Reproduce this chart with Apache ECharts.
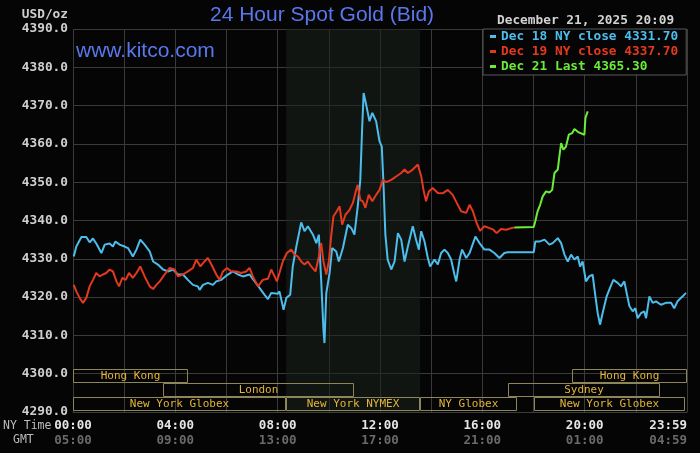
<!DOCTYPE html>
<html>
<head>
<meta charset="utf-8">
<script src="https://cdn.jsdelivr.net/npm/echarts@6/dist/echarts.min.js"></script>
<style>
  html, body { margin: 0; padding: 0; background: #050505; }
  #chart { width: 700px; height: 453px; }
</style>
</head>
<body>
<div id="chart"></div>
<script>
// hours after NY midnight, and the bid price
var blueTimes = [0.03,0.13,0.33,0.52,0.65,0.78,0.91,1.11,1.24,1.43,1.56,1.66,1.82,2.02,2.15,2.34,2.48,2.63,2.80,3.00,
  3.13,3.32,3.52,3.71,3.91,4.10,4.30,4.49,4.69,4.88,4.95,5.08,5.27,5.47,5.60,5.80,5.99,6.25,6.45,6.64,
  6.90,7.10,7.29,7.49,7.62,7.75,8.01,8.07,8.23,8.34,8.49,8.59,8.73,8.92,9.05,9.18,9.38,9.51,9.61,9.70,
  9.79,9.83,9.90,10.03,10.13,10.29,10.39,10.55,10.74,10.88,11.00,11.13,11.23,11.30,11.36,11.46,11.59,11.70,11.85,11.98,
  12.07,12.14,12.21,12.30,12.44,12.57,12.70,12.83,12.96,13.09,13.28,13.41,13.52,13.61,13.74,13.87,13.96,14.13,14.26,14.39,
  14.52,14.65,14.78,14.91,14.98,15.11,15.21,15.37,15.50,15.73,15.89,16.08,16.28,16.47,16.67,16.86,16.99,18.01,18.07,18.23,
  18.43,18.62,18.75,18.95,19.08,19.21,19.34,19.47,19.60,19.73,19.82,19.92,20.05,20.18,20.31,20.42,20.51,20.60,20.70,20.86,
  20.96,21.12,21.29,21.42,21.55,21.64,21.75,21.88,21.98,22.07,22.20,22.33,22.40,22.53,22.66,22.79,22.98,23.18,23.38,23.50,
  23.63,23.83,23.96];
var blueValues = [4330.6,4333.2,4335.7,4335.7,4334.3,4335.3,4334.0,4331.5,4333.7,4334.0,4333.2,4334.5,4333.7,4333.2,4332.8,4330.6,4332.4,4335.0,4333.7,4331.9,
  4329.3,4328.5,4327.2,4326.7,4327.2,4325.9,4325.9,4324.5,4323.2,4322.8,4321.9,4323.2,4323.7,4323.2,4324.1,4324.5,4325.6,4326.7,4325.9,4325.4,
  4325.9,4324.1,4322.4,4320.6,4319.5,4321.1,4320.9,4321.5,4316.7,4319.8,4320.6,4328.0,4333.2,4339.5,4337.2,4338.5,4336.3,4334.1,4336.3,4324.5,
  4311.5,4308.0,4321.0,4326.3,4332.8,4331.9,4329.3,4332.8,4338.9,4338.0,4336.3,4343.7,4350.6,4363.7,4373.3,4370.2,4365.9,4368.1,4365.9,4360.7,
  4359.3,4348.9,4336.3,4329.8,4327.2,4329.3,4336.7,4335.0,4329.3,4333.2,4338.5,4335.0,4332.4,4337.2,4334.5,4330.2,4328.0,4329.8,4328.5,4331.5,
  4332.4,4331.5,4329.8,4325.9,4324.1,4329.8,4332.4,4330.2,4331.5,4335.8,4334.1,4332.4,4332.4,4331.5,4330.2,4331.5,4331.7,4331.7,4334.5,4334.5,
  4335.0,4333.7,4334.1,4335.4,4334.1,4331.1,4329.3,4331.1,4329.8,4330.6,4328.0,4329.3,4324.1,4325.4,4325.9,4320.2,4315.8,4312.8,4315.8,4320.2,
  4321.9,4324.5,4323.7,4322.8,4324.1,4321.1,4317.6,4316.3,4317.1,4314.5,4315.8,4316.3,4314.5,4320.2,4318.5,4318.9,4318.0,4318.5,4318.5,4317.1,
  4318.9,4320.2,4321.1];

var redTimes = [0.03,0.13,0.26,0.39,0.52,0.65,0.78,0.91,1.04,1.17,1.30,1.43,1.56,1.70,1.80,1.93,2.06,2.19,2.34,2.48,
  2.63,2.80,3.00,3.13,3.26,3.39,3.58,3.78,3.97,4.10,4.30,4.49,4.69,4.82,4.98,5.14,5.27,5.41,5.60,5.73,
  5.86,6.02,6.19,6.38,6.58,6.77,6.90,7.03,7.23,7.42,7.62,7.75,7.88,7.97,8.07,8.20,8.36,8.53,8.66,8.79,
  8.92,9.05,9.18,9.31,9.48,9.61,9.70,9.79,9.90,10.00,10.09,10.18,10.31,10.42,10.52,10.65,10.81,10.94,11.07,11.13,
  11.23,11.33,11.43,11.56,11.70,11.85,11.98,12.11,12.24,12.44,12.63,12.83,12.96,13.09,13.28,13.48,13.61,13.70,13.80,13.91,
  14.06,14.26,14.45,14.65,14.84,15.00,15.17,15.37,15.50,15.63,15.78,15.91,16.08,16.28,16.43,16.56,16.73,16.93,17.13,17.25];
var redValues = [4323.2,4321.5,4319.8,4318.5,4319.8,4322.8,4324.5,4326.3,4325.4,4325.9,4326.3,4327.2,4326.7,4324.1,4322.8,4325.0,4324.5,4326.3,4325.0,4326.3,
  4328.0,4325.4,4322.8,4322.1,4323.2,4324.1,4325.9,4327.6,4327.2,4325.4,4325.9,4326.7,4327.6,4329.8,4328.0,4329.3,4330.2,4328.5,4325.9,4324.5,
  4326.7,4327.6,4326.7,4326.7,4326.3,4326.7,4327.6,4325.4,4322.8,4324.5,4324.8,4327.2,4325.4,4324.1,4326.3,4329.3,4331.5,4332.4,4331.1,4330.6,
  4329.3,4328.5,4329.3,4328.0,4326.7,4330.6,4334.1,4329.3,4325.9,4329.3,4335.8,4341.1,4342.4,4343.7,4338.9,4341.5,4342.8,4344.6,4348.0,4349.3,
  4345.4,4345.0,4343.3,4346.7,4345.0,4346.7,4348.0,4350.6,4350.0,4350.6,4351.5,4352.4,4353.3,4352.4,4353.3,4354.6,4351.5,4348.0,4345.0,4347.6,
  4348.5,4347.2,4347.1,4348.0,4346.7,4344.6,4342.4,4342.0,4344.1,4342.4,4339.3,4337.3,4338.5,4338.0,4337.6,4336.7,4337.8,4337.6,4338.0,4338.2];

var greenTimes = [17.25,18.01,18.07,18.16,18.26,18.36,18.49,18.62,18.73,18.82,18.95,19.01,19.08,19.17,19.27,19.38,19.51,19.60,19.77,19.99,20.03,20.12];
var greenValues = [4338.2,4338.3,4339.8,4342.4,4344.1,4346.3,4347.6,4347.3,4348.0,4352.4,4353.3,4356.7,4360.2,4358.5,4359.3,4362.4,4362.8,4363.9,4363.0,4362.4,4366.8,4368.5];

var seriesNames = ['Dec 18 NY close 4331.70', 'Dec 19 NY close 4337.70', 'Dec 21 Last 4365.30'];
var seriesColors = ['#4cbdec', '#e5381f', '#6cec3a'];

// trading sessions along the bottom of the plot
var sessionNames = ['Hong Kong', 'Hong Kong', 'London', 'Sydney', 'New York Globex', 'New York NYMEX', 'NY Globex', 'New York Globex'];
var sessionStart = [0, 19.5, 3.5, 17.0, 0, 8.33, 13.55, 18.0];
var sessionEnd = [4.5, 24, 11.0, 22.95, 8.33, 13.55, 17.35, 23.93];
var sessionRow = [0, 0, 1, 1, 2, 2, 2, 2];

var pitStart = 8.33, pitEnd = 13.57;

var SESSION_TOP = 4301.3, ROW_H = 3.72;
var mono = '"DejaVu Sans Mono", monospace';

function pairs(ts, vs) {
  return ts.map(function (t, i) { return [t, vs[i]]; });
}

function hh(h) {
  return (h < 10 ? '0' : '') + h + ':00';
}

function renderSession(params, api) {
  var row = api.value(2);
  var top = SESSION_TOP - row * ROW_H;
  var p0 = api.coord([api.value(0), top]);
  var p1 = api.coord([api.value(1), top - ROW_H]);
  var x0 = Math.round(p0[0]) + 0.5, x1 = Math.round(p1[0]) - 0.5;
  var y0 = Math.round(p0[1]) + 0.5, y1 = Math.round(p1[1]) - 0.5;
  return {
    type: 'group',
    children: [
      { type: 'rect', shape: { x: x0, y: y0, width: x1 - x0, height: y1 - y0 },
        style: { fill: null, stroke: '#8c8658', lineWidth: 1 } },
      { type: 'text',
        style: { text: sessionNames[params.dataIndex], x: (x0 + x1) / 2, y: (y0 + y1) / 2 + 0.5,
          align: 'center', verticalAlign: 'middle', fill: '#e2b53a', font: '11px ' + mono } }
    ]
  };
}

var chart = echarts.init(document.getElementById('chart'));

var option = {
  backgroundColor: '#050505',
  animation: false,
  title: {
    text: '24 Hour Spot Gold (Bid)',
    left: 210,
    top: 5,
    padding: 0,
    textStyle: { color: '#5a78ee', fontSize: 21, fontWeight: 'normal', fontFamily: '"Liberation Sans", Arial' }
  },
  legend: {
    orient: 'vertical',
    left: 483,
    top: 29,
    padding: [1, 8, 2, 7],
    itemGap: 2,
    itemWidth: 6,
    itemHeight: 3,
    icon: 'rect',
    selectedMode: false,
    backgroundColor: '#050505',
    borderColor: '#5a5a5a',
    borderWidth: 1,
    textStyle: { fontFamily: mono, fontSize: 12.8, fontWeight: 'bold', lineHeight: 12 },
    data: seriesNames.map(function (n, i) {
      return { name: n, textStyle: { color: seriesColors[i] } };
    })
  },
  grid: { left: 73, top: 29, right: 13, bottom: 41 },
  xAxis: {
    type: 'value',
    min: 0,
    max: 24,
    interval: 2,
    axisLine: { lineStyle: { color: '#3c3c3c' } },
    axisTick: { show: false },
    splitLine: { lineStyle: { color: '#3a3a3a', width: 1 } },
    axisLabel: {
      margin: 6,
      alignMaxLabel: 'right',
      formatter: function (v) {
        if (v % 4 !== 0) return '';
        if (v === 24) return '{a|23:59}\n{b|04:59}';
        return '{a|' + hh(v) + '}\n{b|' + hh((v + 5) % 24) + '}';
      },
      rich: {
        a: { color: '#e6e6e6', fontFamily: mono, fontWeight: 'bold', fontSize: 12.5, lineHeight: 15 },
        b: { color: '#6a6a6a', fontFamily: mono, fontWeight: 'bold', fontSize: 12.5, lineHeight: 15 }
      }
    }
  },
  yAxis: {
    type: 'value',
    min: 4290,
    max: 4390,
    interval: 10,
    axisLine: { show: false },
    axisTick: { show: false },
    splitLine: { lineStyle: { color: '#3a3a3a', width: 1 } },
    axisLabel: {
      margin: 5,
      color: '#cfcfcf',
      fontFamily: mono,
      fontWeight: 'bold',
      fontSize: 12.8,
      formatter: function (v) { return v.toFixed(1); }
    }
  },
  graphic: [
    { type: 'text', right: 632, top: 8,
      style: { text: 'USD/oz', fill: '#cfcfcf', font: 'bold 12.8px ' + mono } },
    { type: 'text', left: 76, top: 41,
      style: { text: 'www.kitco.com', fill: '#5a78ee', font: '21px "Liberation Sans", Arial' } },
    { type: 'text', left: 497, top: 14,
      style: { text: 'December 21, 2025 20:09', fill: '#d2d2d2', font: 'bold 12.8px ' + mono } },
    { type: 'text', left: 3, top: 420,
      style: { text: 'NY Time', fill: '#bdbdbd', font: '11.5px ' + mono } },
    { type: 'text', left: 13, top: 434,
      style: { text: 'GMT', fill: '#bdbdbd', font: '11.5px ' + mono } }
  ],
  series: [
    {
      name: seriesNames[0],
      type: 'line',
      showSymbol: false,
      color: seriesColors[0],
      lineStyle: { width: 2 },
      data: pairs(blueTimes, blueValues),
      markArea: {
        silent: true,
        itemStyle: { color: 'rgba(28, 34, 28, 0.55)' },
        data: [[{ xAxis: pitStart }, { xAxis: pitEnd }]]
      }
    },
    {
      name: seriesNames[1],
      type: 'line',
      showSymbol: false,
      color: seriesColors[1],
      lineStyle: { width: 2 },
      data: pairs(redTimes, redValues)
    },
    {
      name: seriesNames[2],
      type: 'line',
      showSymbol: false,
      color: seriesColors[2],
      lineStyle: { width: 2 },
      data: pairs(greenTimes, greenValues)
    },
    {
      type: 'custom',
      silent: true,
      renderItem: renderSession,
      data: sessionNames.map(function (n, i) {
        return [sessionStart[i], sessionEnd[i], sessionRow[i]];
      })
    }
  ]
};

chart.setOption(option);
</script>
</body>
</html>
